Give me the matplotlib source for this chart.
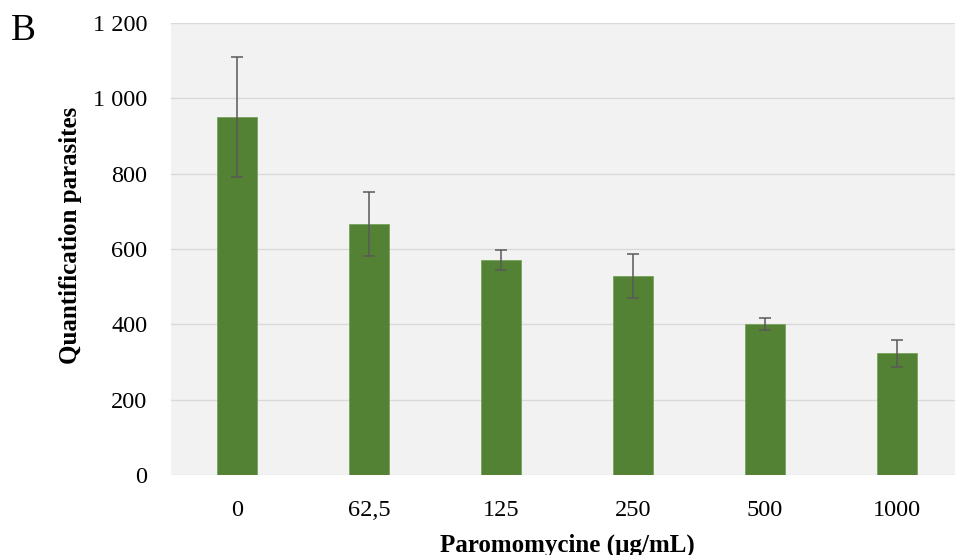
import matplotlib
matplotlib.use('Agg')
import matplotlib.pyplot as plt
from matplotlib.ticker import FuncFormatter, MultipleLocator

# data
doses = ['0', '62,5', '125', '250', '500', '1000']
parasites = [950, 666, 570, 529, 400, 323]
errors = [160, 84, 27, 59, 16, 35]

BAR_COLOR = '#548235'
BG_COLOR = '#f2f2f2'
GRID_COLOR = '#d9d9d9'
ERR_COLOR = '#595959'

plt.rcParams['font.family'] = ['Liberation Serif', 'DejaVu Serif']

fig = plt.figure(figsize=(9.55, 5.55), dpi=100)
# axes run a little past the right edge, like the cropped source
ax = fig.add_axes([171 / 955., 80 / 555., 792 / 955., 452 / 555.])
ax.set_facecolor(BG_COLOR)

x = range(len(doses))
ax.bar(x, parasites, width=0.31, color=BAR_COLOR, edgecolor='#7aa35e',
       linewidth=0.6, zorder=2)
ax.errorbar(x, parasites, yerr=errors, fmt='none', ecolor=ERR_COLOR,
            elinewidth=1.1, capsize=4.5, capthick=1.1, zorder=3)

ax.set_xlim(-0.5, len(doses) - 0.5)
ax.set_ylim(0, 1200)
ax.yaxis.set_major_locator(MultipleLocator(200))
ax.yaxis.set_major_formatter(FuncFormatter(lambda v, p: '{:,.0f}'.format(v).replace(',', ' ')))
ax.set_xticks(list(x))
ax.set_xticklabels(doses)

ax.grid(axis='y', color=GRID_COLOR, linewidth=1.0, zorder=0)
ax.set_axisbelow(True)
for side in ['left', 'right', 'top', 'bottom']:
    ax.spines[side].set_visible(False)
ax.tick_params(axis='both', length=0, labelsize=17.5, colors='#000000')
ax.tick_params(axis='y', pad=17)
ax.tick_params(axis='x', pad=18)

ax.set_ylabel('Quantification parasites', fontsize=18, fontweight='bold')
ax.yaxis.label.set_verticalalignment('center')
ax.yaxis.set_label_coords(-101 / 792., (475 - 235) / 452.)
ax.set_xlabel('Paromomycine (µg/mL)', fontsize=18, fontweight='bold')
ax.xaxis.label.set_verticalalignment('center')
ax.xaxis.set_label_coords(0.5, (475 - 545) / 452.)

fig.text(23 / 955., 1 - 31 / 555., 'B', fontsize=27, ha='center', va='center')

fig.savefig('out.png', dpi=100, facecolor='white')
